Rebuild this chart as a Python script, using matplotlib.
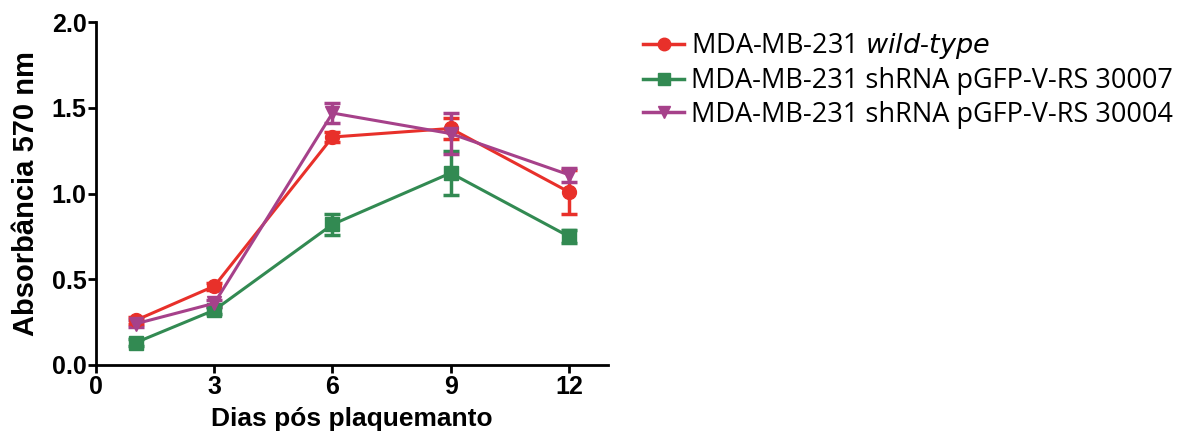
import matplotlib
matplotlib.use("Agg")
import matplotlib.pyplot as plt
from matplotlib.lines import Line2D

days = [1, 3, 6, 9, 12]

wt = [0.26, 0.46, 1.33, 1.38, 1.01]
wt_err = [0.02, 0.02, 0.03, 0.06, 0.13]

sh30007 = [0.13, 0.32, 0.82, 1.12, 0.75]
sh30007_err = [0.02, 0.02, 0.06, 0.13, 0.04]

sh30004 = [0.24, 0.36, 1.47, 1.35, 1.11]
sh30004_err = [0.02, 0.02, 0.06, 0.12, 0.04]

labels = ["MDA-MB-231 $\\it{wild}$-$\\it{type}$",
          "MDA-MB-231 shRNA pGFP-V-RS 30007",
          "MDA-MB-231 shRNA pGFP-V-RS 30004"]

RED = "#e8302a"
GREEN = "#328a52"
MAG = "#a6418a"

fig = plt.figure(figsize=(12.02, 4.44), dpi=100)
ax = fig.add_axes([0.080, 0.178, 0.426, 0.772])

series = [(wt, wt_err, RED, "o"),
          (sh30007, sh30007_err, GREEN, "s"),
          (sh30004, sh30004_err, MAG, "v")]
handles = []
for y, e, c, m in series:
    ax.errorbar(days, y, yerr=e, color=c, marker=m, ms=10, lw=2.2, elinewidth=2.5,
                capsize=6, capthick=2.5)
    handles.append(Line2D([], [], color=c, marker=m, ms=9, lw=2.5))

ax.set_xlim(0, 13)
ax.set_ylim(0, 2.0)
ax.set_xticks([0, 3, 6, 9, 12])
ax.set_yticks([0.0, 0.5, 1.0, 1.5, 2.0])
ax.set_yticklabels(["0.0", "0.5", "1.0", "1.5", "2.0"])
for s in ("top", "right"):
    ax.spines[s].set_visible(False)
for s in ("left", "bottom"):
    ax.spines[s].set_linewidth(2)
ax.tick_params(width=2, length=6, labelsize=18, pad=1)
for t in ax.get_xticklabels() + ax.get_yticklabels():
    t.set_fontweight("bold")
    t.set_family("Liberation Sans")
ax.set_xlabel("Dias pós plaquemanto", fontsize=19, fontweight="bold",
              family="Liberation Sans", labelpad=6)
ax.set_ylabel("Absorbância 570 nm", fontsize=21, fontweight="bold",
              family="Liberation Sans", labelpad=8)

fig.legend(handles, labels, loc="upper left", bbox_to_anchor=(0.515, 0.985), frameon=False,
           prop={"family": "Open Sans", "size": 19.5}, handlelength=1.5,
           handletextpad=0.25, labelspacing=0.22)

fig.savefig("out.png", dpi=100)
